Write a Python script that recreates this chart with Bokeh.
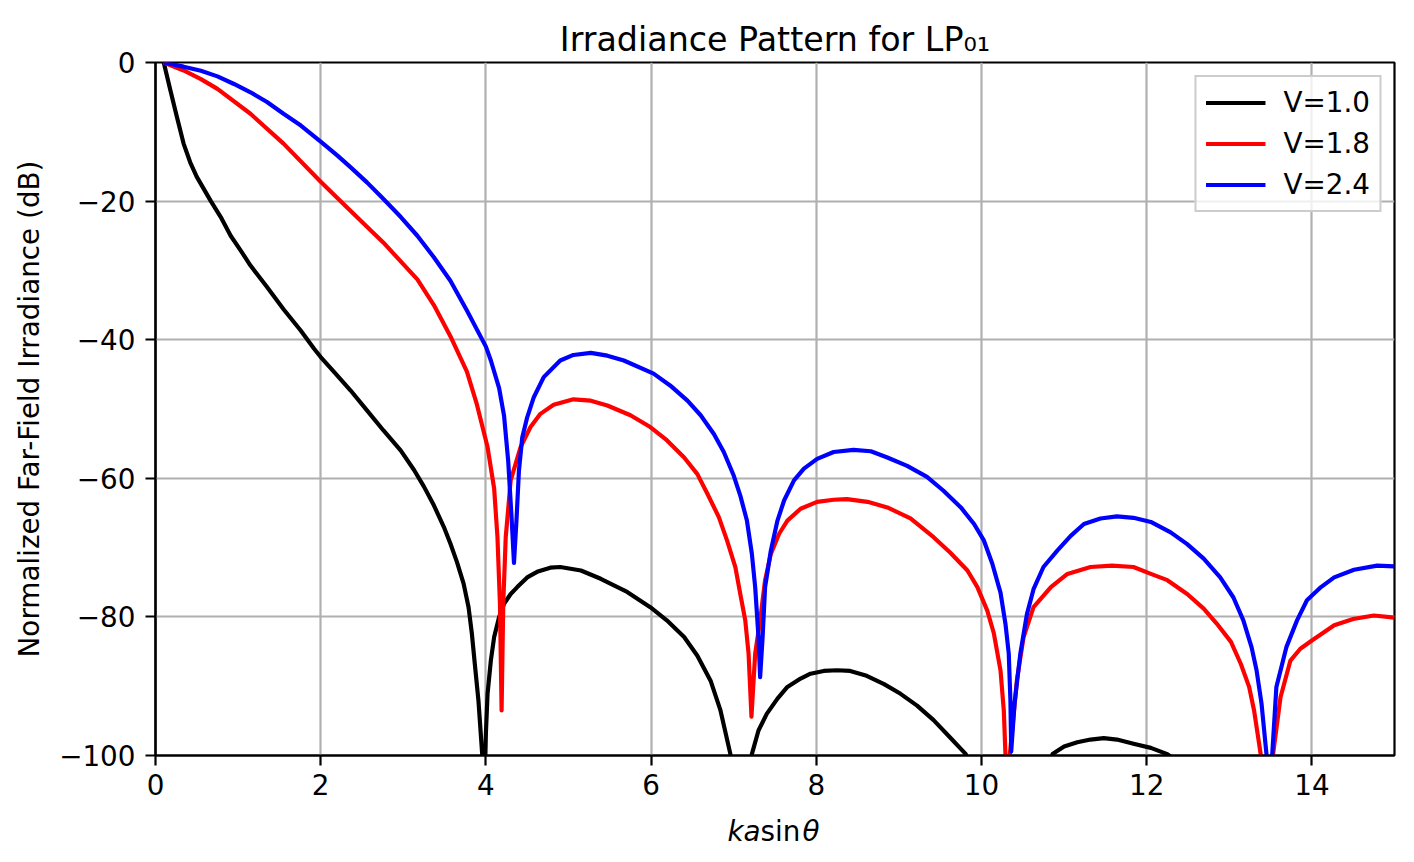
from bokeh.plotting import figure
from bokeh.layouts import column
from bokeh.models import FixedTicker, Label, Range1d
from bokeh.embed import file_html
from bokeh.resources import INLINE

# ---- data ----
title_text = "Irradiance Pattern for LP\u2080\u2081"
x_ticks = [0, 2, 4, 6, 8, 10, 12, 14]
y_ticks = [-100, -80, -60, -40, -20, 0]
series_labels = ["V=1.0", "V=1.8", "V=2.4"]
series_colors = ["#000000", "#ff0000", "#0000ff"]
xlabel_parts = ["ka", "sin", "\u03b8"]

# V = 1.0
x_v10 = [0.10, 0.18, 0.26, 0.34, 0.42, 0.50, 0.67, 0.79, 0.91, 1.03, 1.15,
         1.35, 1.55, 1.76, 1.92, 2.00, 2.18, 2.36, 2.56, 2.76, 2.97, 3.13, 3.25,
         3.37, 3.49, 3.57, 3.65, 3.73, 3.79, 3.83, 3.87, 3.91, 3.955, 3.97, 4.00,
         4.02, 4.06, 4.10, 4.16, 4.22, 4.30, 4.38, 4.50, 4.62, 4.78, 4.90, 5.15,
         5.39, 5.71, 5.99, 6.19, 6.40, 6.56, 6.72, 6.84, 6.96, 7.09, 7.22, 7.30,
         7.40, 7.53, 7.65, 7.81, 7.93, 8.09, 8.25, 8.41, 8.61, 8.82, 9.02, 9.22,
         9.42, 9.62, 9.81, 10.33, 10.86, 11.00, 11.16, 11.32, 11.48, 11.64, 11.84,
         12.05, 12.25, 12.45]
db_v10 = [0.0, -4.0, -7.9, -11.7, -14.4, -16.5, -20.0, -22.3, -25.0, -27.1, -29.3,
          -32.4, -35.6, -38.7, -41.3, -42.5, -44.9, -47.3, -50.2, -53.1, -56.0, -58.8, -61.2,
          -63.9, -67.0, -69.4, -72.1, -75.2, -78.6, -82.4, -87.3, -92.1, -99.8, -112.0, -96.8,
          -91.1, -86.3, -82.9, -80.0, -78.1, -76.7, -75.7, -74.3, -73.5, -72.9, -72.8, -73.3,
          -74.5, -76.4, -78.6, -80.5, -82.9, -85.6, -89.2, -93.5, -99.8, -120.0, -99.8, -96.4,
          -94.0, -91.8, -90.1, -88.9, -88.2, -87.8, -87.7, -87.8, -88.5, -89.7, -91.1, -92.8,
          -94.9, -97.4, -99.8, -120.0, -99.8, -98.7, -98.1, -97.7, -97.5, -97.7, -98.3,
          -98.9, -99.8, -101.5]

# V = 1.8
x_v18 = [0.10, 0.34, 0.55, 0.75, 1.15, 1.55, 2.00, 2.36, 2.76, 3.17, 3.37, 3.57,
         3.77, 3.89, 4.02, 4.10, 4.14, 4.17, 4.19, 4.21, 4.24, 4.30, 4.42,
         4.54, 4.66, 4.82, 5.06, 5.27, 5.47, 5.75, 5.99, 6.19, 6.40, 6.56, 6.68,
         6.82, 6.92, 7.02, 7.08, 7.14, 7.18, 7.215, 7.26, 7.32, 7.38, 7.45, 7.55,
         7.65, 7.81, 8.01, 8.21, 8.37, 8.62, 8.86, 9.14, 9.42, 9.62, 9.83, 9.95,
         10.07, 10.15, 10.23, 10.27, 10.29, 10.31, 10.35, 10.43, 10.51, 10.63, 10.84,
         11.04, 11.32, 11.58, 11.84, 12.05, 12.25, 12.49, 12.69, 12.85, 13.02, 13.14,
         13.24, 13.30, 13.38, 13.45, 13.53, 13.62, 13.74, 13.86, 14.00, 14.27, 14.50,
         14.75, 15.00]
db_v18 = [0.0, -1.15, -2.4, -3.8, -7.4, -11.7, -17.2, -21.4, -26.0, -31.3, -35.0, -39.5,
          -44.6, -49.3, -55.5, -61.5, -68.5, -78.1, -93.5, -78.1, -68.5, -60.3, -55.5,
          -52.6, -50.7, -49.4, -48.6, -48.8, -49.5, -50.9, -52.6, -54.5, -57.0, -59.4, -62.2,
          -65.6, -69.0, -72.8, -76.7, -80.5, -85.3, -94.4, -85.3, -80.5, -74.7, -70.9, -68.0,
          -66.1, -64.4, -63.4, -63.1, -63.0, -63.4, -64.2, -65.8, -68.5, -70.7, -73.3, -75.7,
          -79.1, -82.4, -87.7, -93.5, -99.8, -104.0, -99.0, -89.0, -82.9, -78.6, -75.7,
          -73.8, -72.8, -72.6, -72.8, -73.8, -74.7, -76.7, -78.8, -81.0, -83.6, -86.8,
          -90.1, -93.5, -99.8, -110.0, -99.8, -91.6, -86.3, -84.6, -83.4, -81.2, -80.3,
          -79.8, -80.1]

# V = 2.4
x_v24 = [0.10, 0.34, 0.55, 0.75, 0.95, 1.15, 1.35, 1.55, 1.76, 2.00, 2.20, 2.36,
         2.56, 2.76, 2.97, 3.17, 3.37, 3.57, 3.77, 4.00, 4.06, 4.16, 4.22, 4.27,
         4.31, 4.34, 4.37, 4.40, 4.44, 4.50, 4.58, 4.70, 4.90, 5.06, 5.27, 5.47,
         5.67, 6.03, 6.23, 6.44, 6.60, 6.76, 6.88, 7.00, 7.08, 7.16, 7.22, 7.26,
         7.30, 7.32, 7.35, 7.38, 7.45, 7.53, 7.61, 7.73, 7.85, 8.01, 8.21, 8.45,
         8.66, 8.86, 9.10, 9.34, 9.54, 9.75, 9.91, 10.03, 10.13, 10.23, 10.29, 10.33,
         10.35, 10.36, 10.40, 10.47, 10.55, 10.63, 10.75, 10.92, 11.08, 11.24, 11.44,
         11.64, 11.84, 12.05, 12.29, 12.49, 12.69, 12.89, 13.05, 13.17, 13.27, 13.33,
         13.39, 13.45, 13.485, 13.52, 13.57, 13.64, 13.69, 13.82, 13.94, 14.11, 14.27,
         14.51, 14.79, 15.00]
db_v24 = [0.0, -0.6, -1.2, -2.0, -3.1, -4.3, -5.7, -7.4, -9.1, -11.4, -13.4, -15.1,
          -17.3, -19.7, -22.3, -25.0, -28.1, -31.5, -35.8, -41.0, -43.0, -47.0, -51.0, -57.5,
          -65.5, -72.2, -66.1, -58.9, -54.1, -51.2, -48.3, -45.4, -43.0, -42.2, -41.9, -42.3,
          -43.0, -44.9, -46.6, -48.8, -50.9, -53.6, -56.2, -59.6, -62.5, -66.1, -70.9, -75.7,
          -82.9, -88.7, -82.9, -75.7, -70.4, -66.1, -63.2, -60.3, -58.6, -57.2, -56.2, -55.9,
          -56.1, -57.0, -58.2, -59.8, -61.8, -64.2, -66.6, -69.0, -72.3, -76.5, -81.0, -85.3,
          -92.0, -99.4, -92.5, -85.3, -79.6, -76.0, -72.8, -70.4, -68.3, -66.6, -65.8,
          -65.5, -65.7, -66.3, -67.8, -69.5, -71.6, -74.3, -77.2, -80.5, -84.4, -87.7,
          -92.5, -99.8, -110.0, -99.8, -90.1, -86.8, -84.4, -80.5, -77.6, -75.7, -74.3,
          -73.2, -72.6, -72.7]

FONT = "DejaVu Sans"
FS = "27.8px"
LEFT, FRAME_W, RIGHT = 155, 1239, 20
TOP, FRAME_H, BOTTOM = 62, 693, 50
TOTAL_H = 862

p = figure(frame_width=FRAME_W, frame_height=FRAME_H,
           min_border_left=LEFT, min_border_right=RIGHT, min_border_top=TOP, min_border_bottom=BOTTOM,
           x_range=Range1d(0, 15), y_range=Range1d(-100, 0),
           output_backend="svg", toolbar_location=None,
           background_fill_color="white", border_fill_color="white")

for xs, ys, lab, col in zip([x_v10, x_v18, x_v24], [db_v10, db_v18, db_v24],
                            series_labels, series_colors):
    p.line(xs, ys, line_color=col, line_width=4.17, line_join="round", legend_label=lab)

# title
p.title.text = title_text
p.title.align = "center"
p.title.text_font = FONT
p.title.text_font_size = "33.3px"
p.title.text_font_style = "normal"
p.title.text_color = "black"
p.title.standoff = 8

# axes
p.xaxis.ticker = FixedTicker(ticks=x_ticks)
p.yaxis.ticker = FixedTicker(ticks=y_ticks)
p.yaxis.major_label_overrides = {t: (("\u2212" + str(-t)) if t < 0 else str(t)) for t in y_ticks}
for ax in (p.xaxis, p.yaxis):
    ax.axis_line_color = "black"
    ax.axis_line_width = 2.2
    ax.major_tick_line_color = "black"
    ax.major_tick_line_width = 2.2
    ax.major_tick_out = 10
    ax.major_tick_in = 0
    ax.minor_tick_line_color = None
    ax.major_label_text_font = FONT
    ax.major_label_text_font_size = FS
    ax.major_label_text_color = "black"
    ax.axis_label_text_font = FONT
    ax.axis_label_text_font_size = FS
    ax.axis_label_text_font_style = "normal"
    ax.axis_label_text_color = "black"
p.xaxis.major_label_standoff = 8
p.yaxis.major_label_standoff = 10
p.yaxis.axis_label = "Normalized Far-Field Irradiance (dB)"
p.yaxis.axis_label_standoff = 10

# grid and outline
p.grid.grid_line_color = "#b0b0b0"
p.grid.grid_line_width = 2.2
p.outline_line_color = "black"
p.outline_line_width = 2.2
p.outline_line_alpha = 1.0

# legend
lg = p.legend[0]
lg.location = "top_right"
lg.margin = 13
lg.padding = 9
lg.spacing = 8
lg.glyph_width = 60
lg.glyph_height = 33
lg.label_height = 33
lg.label_standoff = 18
lg.label_text_font = FONT
lg.label_text_font_size = FS
lg.label_text_color = "black"
lg.border_line_color = "#cccccc"
lg.border_line_width = 2.2
lg.border_line_alpha = 1.0
lg.background_fill_color = "white"
lg.background_fill_alpha = 0.8

# x-axis label strip (mathtext-like "ka sin θ": italic ka, upright sin, italic θ)
# the strip's frame is aligned with the main frame, so its x range is in page pixels
strip_h = TOTAL_H - (TOP + FRAME_H + BOTTOM)
q = figure(title=None, frame_width=FRAME_W, frame_height=strip_h,
           min_border_left=LEFT, min_border_right=RIGHT, min_border_top=0, min_border_bottom=0,
           x_range=Range1d(LEFT, LEFT + FRAME_W), y_range=Range1d(0, strip_h),
           output_backend="svg", toolbar_location=None,
           background_fill_color="white", border_fill_color="white")
q.axis.visible = False
q.grid.visible = False
q.outline_line_color = None
baseline_from_top = 831 - (TOP + FRAME_H + BOTTOM)
for txt, xx, style in zip(xlabel_parts, [727, 760, 802], ["italic", "normal", "italic"]):
    q.add_layout(Label(x=xx, y=strip_h - baseline_from_top, text=txt,
                       text_font=FONT, text_font_size=FS, text_font_style=style,
                       text_color="black", text_baseline="alphabetic", text_align="left"))

layout = column(p, q, spacing=0)
open("out.html", "w").write(file_html(layout, INLINE))
